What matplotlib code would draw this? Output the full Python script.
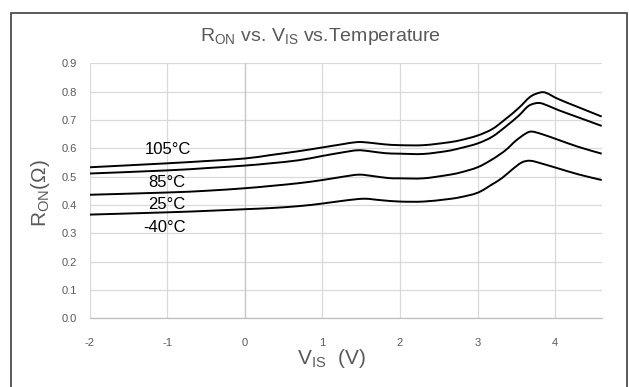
import matplotlib
matplotlib.use('Agg')
import matplotlib.pyplot as plt
from matplotlib import font_manager
from matplotlib.patches import Rectangle, PathPatch
from matplotlib.path import Path

# pick a narrow sans if present
names = {f.name for f in font_manager.fontManager.ttflist}
family = ['Liberation Sans Narrow'] if 'Liberation Sans Narrow' in names else ['Liberation Sans']
plt.rcParams['font.family'] = family + ['DejaVu Sans']
plt.rcParams['axes.unicode_minus'] = False

# readings (V_IS in volts, R_ON in ohms)
x_105 = [-2, -1, -0.5, 0, 0.33, 0.7, 1.0, 1.25, 1.45, 1.6, 1.8, 2.0, 2.3, 2.6, 2.77, 3.0,
         3.19, 3.36, 3.53, 3.68, 3.81, 3.89, 4.04, 4.3, 4.6]
r_105 = [0.533, 0.547, 0.555, 0.564, 0.576, 0.590, 0.603, 0.614, 0.622, 0.620, 0.614, 0.611,
         0.611, 0.620, 0.628, 0.645, 0.668, 0.703, 0.742, 0.782, 0.797, 0.795, 0.774,
         0.745, 0.712]

x_85 = [-2, -1, -0.5, 0, 0.33, 0.7, 1.0, 1.25, 1.45, 1.6, 1.8, 2.0, 2.3, 2.6, 2.77, 3.0,
        3.19, 3.36, 3.53, 3.66, 3.79, 3.91, 4.04, 4.3, 4.6]
r_85 = [0.511, 0.522, 0.530, 0.539, 0.547, 0.558, 0.573, 0.585, 0.593, 0.590, 0.583, 0.581,
        0.580, 0.590, 0.600, 0.617, 0.641, 0.676, 0.715, 0.750, 0.760, 0.750, 0.735,
        0.709, 0.679]

x_25 = [-2, -1, -0.5, 0, 0.33, 0.7, 1.0, 1.25, 1.47, 1.65, 1.85, 2.0, 2.3, 2.6, 2.77, 3.0,
        3.19, 3.36, 3.49, 3.62, 3.70, 3.83, 4.04, 4.3, 4.6]
r_25 = [0.436, 0.444, 0.450, 0.459, 0.467, 0.477, 0.488, 0.499, 0.507, 0.502, 0.495, 0.494,
        0.494, 0.505, 0.514, 0.533, 0.561, 0.593, 0.626, 0.652, 0.659, 0.650, 0.630,
        0.605, 0.581]

x_m40 = [-2, -1, -0.5, 0, 0.33, 0.7, 1.0, 1.3, 1.54, 1.75, 2.0, 2.3, 2.6, 2.77, 3.0,
         3.19, 3.32, 3.45, 3.57, 3.68, 3.83, 4.04, 4.3, 4.6]
r_m40 = [0.366, 0.374, 0.379, 0.385, 0.389, 0.396, 0.405, 0.416, 0.422, 0.417, 0.412, 0.412,
         0.420, 0.427, 0.443, 0.473, 0.496, 0.526, 0.550, 0.556, 0.546, 0.529,
         0.508, 0.488]

series = [(x_105, r_105), (x_85, r_85), (x_25, r_25), (x_m40, r_m40)]
curve_labels = ['105°C', '85°C', '25°C', '-40°C']
label_pos = [(-0.99, 0.597), (-1.0, 0.481), (-1.01, 0.402), (-1.03, 0.319)]

x_ticks = [-2, -1, 0, 1, 2, 3, 4]
y_ticks = [0.0, 0.1, 0.2, 0.3, 0.4, 0.5, 0.6, 0.7, 0.8, 0.9]


def smooth_path(xs, ys):
    # Excel-style smoothed line: cubic bezier segments through the readings
    pts = list(zip(xs, ys))
    verts = [pts[0]]
    codes = [Path.MOVETO]
    n = len(pts)
    for i in range(n - 1):
        p0 = pts[i - 1] if i > 0 else pts[i]
        p1, p2 = pts[i], pts[i + 1]
        p3 = pts[i + 2] if i + 2 < n else pts[i + 1]
        c1 = (p1[0] + (p2[0] - p0[0]) / 6, p1[1] + (p2[1] - p0[1]) / 6)
        c2 = (p2[0] - (p3[0] - p1[0]) / 6, p2[1] - (p3[1] - p1[1]) / 6)
        verts += [c1, c2, p2]
        codes += [Path.CURVE4] * 3
    return Path(verts, codes)


W, H = 629, 387
fig = plt.figure(figsize=(W / 100, H / 100), dpi=100)
ax = fig.add_axes([89.5 / W, 1 - 318.3 / H, (601.7 - 89.5) / W, (318.3 - 63.3) / H])

for (xs, ys) in series:
    ax.add_patch(PathPatch(smooth_path(xs, ys), fill=False, edgecolor='black',
                           lw=1.4, zorder=3))

for txt, (lx, ly) in zip(curve_labels, label_pos):
    ax.text(lx, ly, txt, ha='center', va='center', fontsize=12, color='black')

ax.set_xlim(-2, 4.6)
ax.set_ylim(0, 0.9)
ax.set_xticks(x_ticks)
ax.set_yticks(y_ticks)
ax.set_yticklabels([f'{v:.1f}' for v in y_ticks])
ax.tick_params(length=0, labelsize=8, labelcolor='#595959')
ax.tick_params(axis='x', pad=14)
ax.tick_params(axis='y', pad=9)
ax.grid(True, color='#d9d9d9', lw=0.9)
ax.axvline(0, color='#c8c8c8', lw=0.9, zorder=1)
ax.set_axisbelow(True)
for s in ['left', 'right', 'top']:
    ax.spines[s].set_visible(False)
ax.spines['bottom'].set_color('#bfbfbf')
ax.spines['bottom'].set_linewidth(0.9)

fig.text(320 / W, 1 - 36.7 / H, r'R$_{\mathregular{ON}}$ vs. V$_{\mathregular{IS}}$ vs.Temperature',
         ha='center', va='center', fontsize=14, color='#595959')
fig.text(331 / W, 1 - 359 / H, r'V$_{\mathregular{IS}}$  (V)',
         ha='center', va='center', fontsize=15, color='#595959')
fig.text(41 / W, 1 - 193 / H, r'R$_{\mathregular{ON}}$(Ω)', rotation=90,
         ha='center', va='center', fontsize=15, color='#595959')

# outer chart border
fig.patches.append(Rectangle((10.5 / W, -0.2), (626.5 - 10.5) / W, 1.2 - 13 / H,
                             transform=fig.transFigure, fill=False,
                             edgecolor='#404040', lw=1.2))

fig.savefig('out.png', dpi=100)
